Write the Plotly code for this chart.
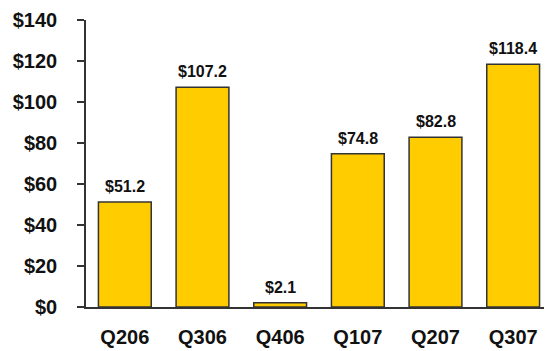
import plotly.graph_objects as go

quarters = ["Q206", "Q306", "Q406", "Q107", "Q207", "Q307"]
revenue = [51.2, 107.2, 2.1, 74.8, 82.8, 118.4]
labels = ["$51.2", "$107.2", "$2.1", "$74.8", "$82.8", "$118.4"]
yticks = [0, 20, 40, 60, 80, 100, 120, 140]
ytick_text = ["$" + str(v) for v in yticks]

fig = go.Figure(go.Bar(
    x=quarters, y=revenue,
    marker=dict(color="#FFCC00", line=dict(color="#333333", width=1.5)),
    width=0.68,
))

for q, v, t in zip(quarters, revenue, labels):
    fig.add_annotation(x=q, y=v, text=t, showarrow=False, yanchor="bottom", yshift=5,
                       font=dict(family="Liberation Sans, Arial", size=16, color="#111111", weight="bold"))

# the page body adds an 8px offset, so the figure is sized to fit the window
fig.update_layout(
    width=544, height=343,
    margin=dict(l=78, r=0, t=12, b=44, autoexpand=False),
    plot_bgcolor="white", paper_bgcolor="white",
    showlegend=False,
    font=dict(family="Liberation Sans, Arial", color="#111111"),
    xaxis=dict(range=[-0.5, 5.5], showline=True, linecolor="#333333", linewidth=1.5,
               ticks="", ticklabelstandoff=11, automargin=False,
               tickfont=dict(size=20, weight="bold")),
    yaxis=dict(range=[0, 140], tickvals=yticks, ticktext=ytick_text, showgrid=False,
               zeroline=False, showline=True, linecolor="#333333", linewidth=1.5,
               ticks="outside", ticklen=7, tickcolor="#333333", tickwidth=1.5,
               ticklabelstandoff=16, automargin=False,
               tickfont=dict(size=20, weight="bold")),
)

fig.write_html("out.html")
